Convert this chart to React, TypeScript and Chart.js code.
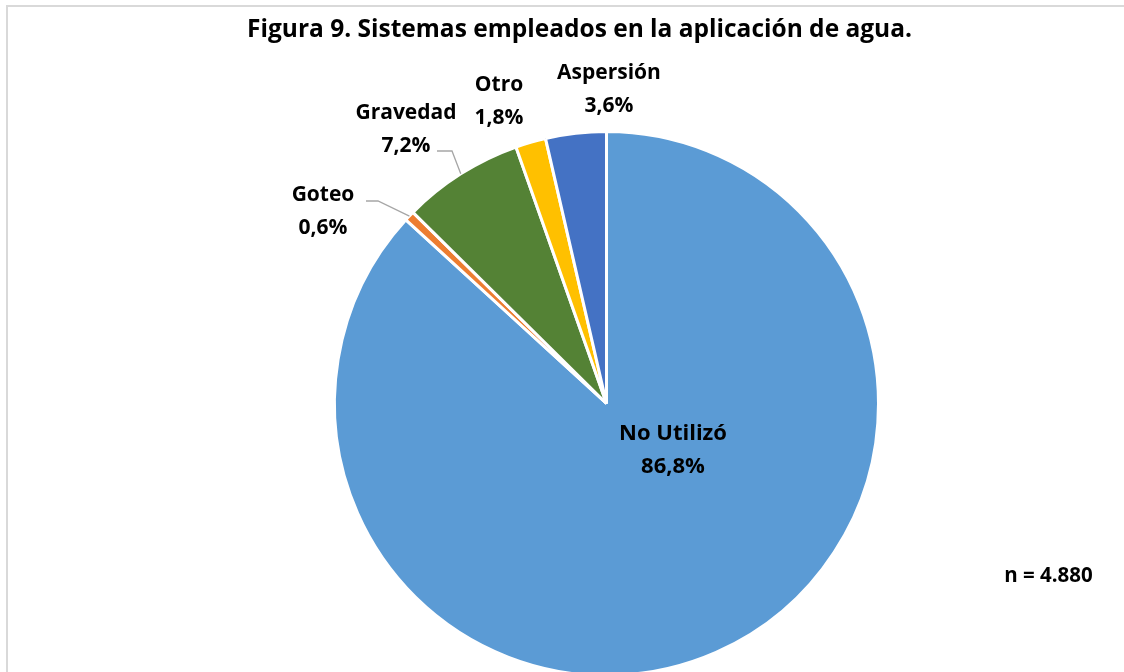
import React, { useEffect, useRef } from "react";
import { Chart, registerables } from "chart.js";

Chart.register(...registerables);

const categories = ["No Utilizó", "Goteo", "Gravedad", "Otro", "Aspersión"];
const values = [86.8, 0.6, 7.2, 1.8, 3.6];
const sliceColors = ["#5B9BD5", "#ED7D31", "#548235", "#FFC000", "#4472C4"];
const titleText = "Figura 9. Sistemas empleados en la aplicación de agua.";
const sampleNote = "n = 4.880";

// layout: label center x and first-line baseline, leader-line start points
const labelAnchors: [number, number][] = [
  [673, 440],
  [323, 201],
  [406, 119],
  [499, 91],
  [609, 79],
];
const leaderStarts: ([number, number][] | null)[] = [
  null,
  [[366, 201], [378, 201]],
  [[437, 151], [452, 151]],
  null,
  null,
];

const FONT = "'Open Sans', Lato, sans-serif";

const fmt = (v: number) => v.toFixed(1).replace(".", ",") + "%";

const overlay = {
  id: "overlay",
  afterDraw(chart: any) {
    const ctx = chart.ctx as CanvasRenderingContext2D;
    ctx.save();
    // frame
    ctx.strokeStyle = "#d9d9d9";
    ctx.lineWidth = 2;
    ctx.strokeRect(7, 6, 1200, 800);
    // title
    ctx.fillStyle = "#000";
    ctx.textAlign = "center";
    ctx.textBaseline = "alphabetic";
    ctx.font = `bold 24.5px ${FONT}`;
    ctx.fillText(titleText, 579.5, 37);
    // leader lines
    const meta = chart.getDatasetMeta(0);
    ctx.strokeStyle = "#a6a6a6";
    ctx.lineWidth = 1.3;
    meta.data.forEach((arc: any, i: number) => {
      const pts = leaderStarts[i];
      if (!pts) return;
      const p = arc.getProps(["x", "y", "startAngle", "endAngle", "outerRadius"], true);
      const mid = (p.startAngle + p.endAngle) / 2;
      const ex = p.x + Math.cos(mid) * p.outerRadius;
      const ey = p.y + Math.sin(mid) * p.outerRadius;
      ctx.beginPath();
      ctx.moveTo(pts[0][0], pts[0][1]);
      for (let k = 1; k < pts.length; k++) ctx.lineTo(pts[k][0], pts[k][1]);
      ctx.lineTo(ex, ey);
      ctx.stroke();
    });
    // labels
    ctx.fillStyle = "#000";
    categories.forEach((c, i) => {
      const [lx, ly] = labelAnchors[i];
      ctx.font = `bold ${i === 0 ? 22 : 21}px ${FONT}`;
      ctx.fillText(c, lx, ly);
      ctx.fillText(fmt(values[i]), lx, ly + 33);
    });
    // n note
    ctx.font = `bold 20.5px ${FONT}`;
    ctx.fillText(sampleNote, 1048.5, 582);
    ctx.restore();
  },
};

export default function App() {
  const ref = useRef<HTMLCanvasElement | null>(null);
  useEffect(() => {
    document.body.style.margin = "0";
    document.body.style.background = "#fff";
    document.body.style.overflow = "hidden";
    const chart = new Chart(ref.current!, {
      type: "pie",
      data: {
        labels: categories,
        datasets: [
          {
            data: values,
            backgroundColor: sliceColors,
            borderColor: "#ffffff",
            borderWidth: 3,
          },
        ],
      },
      options: {
        responsive: false,
        animation: false,
        devicePixelRatio: 1,
        layout: { padding: { left: 333, right: 244, top: 130, bottom: 23 } },
        plugins: {
          legend: { display: false },
          title: { display: false },
          tooltip: { enabled: false },
        },
      },
      plugins: [overlay],
    });
    return () => chart.destroy();
  }, []);
  return (
    <div style={{ position: "fixed", left: 0, top: 0, width: 1124, height: 700, background: "#fff" }}>
      <canvas ref={ref} width={1124} height={700} style={{ width: 1124, height: 700 }} />
    </div>
  );
}
